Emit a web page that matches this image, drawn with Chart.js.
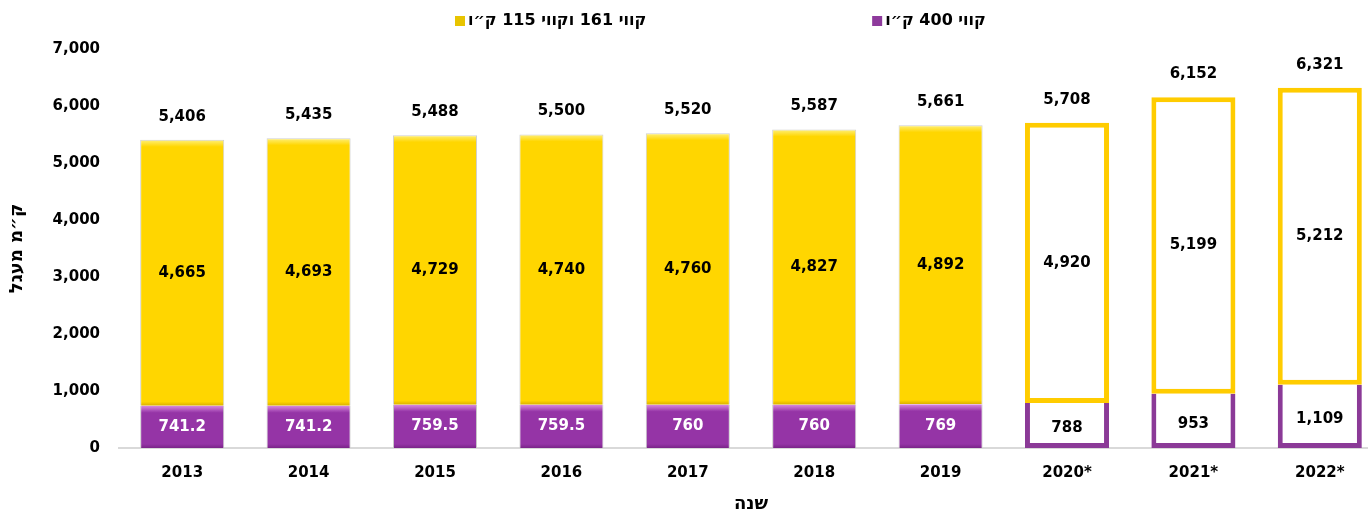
<!DOCTYPE html>
<html>
<head>
<meta charset="utf-8">
<script src="https://cdn.jsdelivr.net/npm/chart.js@4"></script>
<style>
  html, body { margin: 0; padding: 0; background: #fff; overflow: hidden; }
  /* a bit wider than the window: the last bar sits closer to the edge than Chart.js allows */
  #wrap { width: 1383px; height: 515px; }
</style>
</head>
<body>
<div id="wrap"><canvas id="lineChart"></canvas></div>
<script>
const years = ["2013", "2014", "2015", "2016", "2017", "2018", "2019", "2020*", "2021*", "2022*"];
const kv400 = [741.2, 741.2, 759.5, 759.5, 760, 760, 769, 788, 953, 1109];
const kv161 = [4665, 4693, 4729, 4740, 4760, 4827, 4892, 4920, 5199, 5212];
const totals = [5406, 5435, 5488, 5500, 5520, 5587, 5661, 5708, 6152, 6321];
const yTicks = [0, 1000, 2000, 3000, 4000, 5000, 6000, 7000];
const planned = [false, false, false, false, false, false, false, true, true, true];

const FONT = "'DejaVu Sans', 'Liberation Sans', sans-serif";
const purple = "#9534A6";
const yellow = "#FFD600";
const purpleLine = "#8B3A97";
const yellowLine = "#FFCC00";

const fmt = v => v.toLocaleString("en-US");

// soft bevel on the filled bars: light top edge, darker bottom edge
function shaded(base, light, dark, bottomArr) {
  return context => {
    const i = context.dataIndex;
    if (planned[i]) return "#fff";
    const chart = context.chart;
    const ys = chart.scales.y;
    if (!ys || !chart.chartArea) return base;
    const lo = bottomArr ? bottomArr[i] : 0;
    const top = ys.getPixelForValue(lo + context.dataset.data[i]);
    const bot = ys.getPixelForValue(lo);
    const h = Math.max(bot - top, 1);
    const g = chart.ctx.createLinearGradient(0, top, 0, bot);
    g.addColorStop(0, light);
    g.addColorStop(Math.min(7 / h, 0.5), base);
    g.addColorStop(Math.max(1 - 4 / h, 0.5), base);
    g.addColorStop(1, dark);
    return g;
  };
}

// numbers inside the bars and the totals above them
const barLabels = {
  id: "barLabels",
  afterDatasetsDraw(chart) {
    const ctx = chart.ctx;
    ctx.save();
    ctx.font = "bold 15px " + FONT;
    ctx.textAlign = "center";
    ctx.textBaseline = "middle";
    chart.data.datasets.forEach((ds, di) => {
      chart.getDatasetMeta(di).data.forEach((bar, i) => {
        const mid = (bar.y + bar.base) / 2;
        if (di === 0) {
          ctx.fillStyle = planned[i] ? "#000" : "#fff";
          ctx.fillText(fmt(ds.data[i]), bar.x, mid + (planned[i] ? 3 : 0));
        } else {
          ctx.fillStyle = "#000";
          ctx.fillText(fmt(ds.data[i]), bar.x, mid);
          ctx.fillText(fmt(totals[i]), bar.x, bar.y - 23);
        }
      });
    });
    ctx.restore();
  }
};

// legend row: yellow item first, purple second, wide gap
const legendRow = {
  id: "legendRow",
  afterDraw(chart) {
    const ctx = chart.ctx;
    ctx.save();
    ctx.font = "bold 16px " + FONT;
    ctx.textBaseline = "middle";
    ctx.textAlign = "left";
    const items = [
      { text: chart.data.datasets[1].label, color: "#E8C400" },
      { text: chart.data.datasets[0].label, color: "#8E3A9C" }
    ];
    let x = chart.chartArea.left + 336;
    const y = 21;
    items.forEach(it => {
      ctx.fillStyle = it.color;
      ctx.fillRect(x, y - 5, 10, 10);
      ctx.fillStyle = "#000";
      ctx.fillText(it.text, x + 13, y);
      x += 13 + ctx.measureText(it.text).width + 226;
    });
    ctx.restore();
  }
};

new Chart(document.getElementById("lineChart"), {
  type: "bar",
  data: {
    labels: years,
    datasets: [
      {
        label: "קווי 400 ק״ו",
        data: kv400,
        backgroundColor: shaded(purple, "#D98AE0", "#7A2488", null),
        borderColor: years.map((y, i) => planned[i] ? purpleLine : "#c9c9c9"),
        borderWidth: years.map((y, i) => planned[i] ? 5 : { left: 1, right: 1, top: 0, bottom: 0 }),
        borderSkipped: "end",
        barPercentage: 0.665,
        categoryPercentage: 1,
      },
      {
        label: "קווי 161 וקווי 115 ק״ו",
        data: kv161,
        backgroundColor: shaded(yellow, "#FFF07A", "#D9AE00", kv400),
        borderColor: years.map((y, i) => planned[i] ? yellowLine : "#d0d0d0"),
        borderWidth: years.map((y, i) => planned[i] ? 5 : { left: 1, right: 1, top: 1, bottom: 0 }),
        borderSkipped: false,
        barPercentage: 0.665,
        categoryPercentage: 1,
      },
    ],
  },
  options: {
    responsive: true,
    maintainAspectRatio: false,
    animation: false,
    layout: { padding: { top: 49, right: 0, left: 0, bottom: 0 } },
    plugins: {
      legend: { display: false },
      tooltip: { enabled: false },
    },
    scales: {
      x: {
        stacked: true,
        afterFit: axis => { axis.height = 67; },
        grid: { display: false, drawTicks: false },
        border: { display: true, color: "#d9d9d9", width: 2 },
        ticks: { color: "#000", font: { family: FONT, size: 15, weight: "bold" }, padding: 16, maxRotation: 0 },
        title: {
          display: true,
          text: "שנה",
          color: "#000",
          font: { family: FONT, size: 18, weight: "bold" },
          padding: { top: 12, bottom: 0 },
        },
      },
      y: {
        stacked: true,
        min: 0,
        max: 7000,
        afterBuildTicks: axis => { axis.ticks = yTicks.map(v => ({ value: v })); },
        afterFit: axis => { axis.width = 119; },
        grid: { display: false, drawTicks: false },
        border: { display: false },
        ticks: {
          color: "#000",
          font: { family: FONT, size: 15, weight: "bold" },
          padding: 19,
          callback: v => fmt(v),
        },
        title: {
          display: true,
          text: "ק״מ מעגל",
          color: "#000",
          font: { family: FONT, size: 18, weight: "bold" },
          padding: { top: 7, bottom: 0 },
        },
      },
    },
  },
  plugins: [barLabels, legendRow],
});
</script>
</body>
</html>
